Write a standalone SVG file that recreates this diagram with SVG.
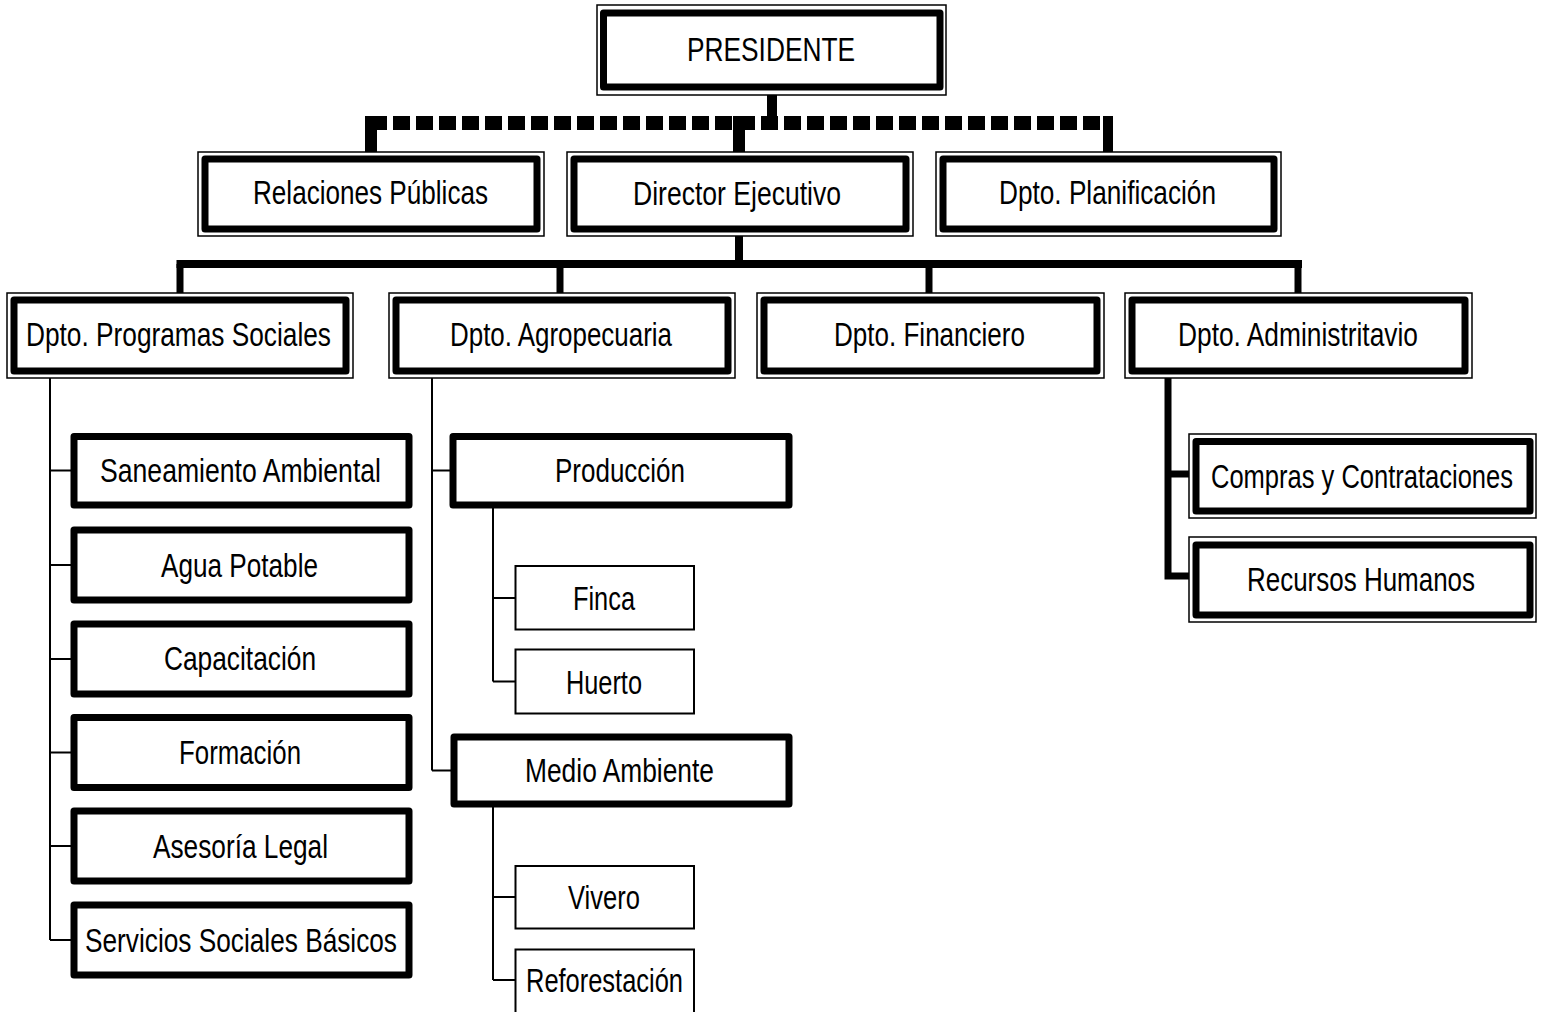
<svg xmlns="http://www.w3.org/2000/svg" width="1544" height="1012" viewBox="0 0 1544 1012">
<style>
.outer{fill:#fff;stroke:#000;stroke-width:1.5}
.thick{fill:#fff;stroke:#000;stroke-width:7;stroke-linejoin:round}
.thin{fill:#fff;stroke:#000;stroke-width:2}
.t{font-family:"Liberation Sans",Arial,sans-serif;font-size:33px;fill:#000;text-anchor:middle}
.c{fill:none;stroke:#000}
</style>
<rect width="1544" height="1012" fill="#fff"/>
<g id="connectors">
<line class="c" x1="772" y1="95" x2="772" y2="123" stroke-width="10"/>
<line class="c" x1="370" y1="123" x2="1108" y2="123" stroke-width="14" stroke-dasharray="17 6"/>
<line class="c" x1="371" y1="116" x2="371" y2="152" stroke-width="12"/>
<line class="c" x1="739" y1="116" x2="739" y2="152" stroke-width="12"/>
<line class="c" x1="1108" y1="116" x2="1108" y2="152" stroke-width="10"/>
<line class="c" x1="739" y1="236" x2="739" y2="264" stroke-width="8"/>
<line class="c" x1="176.5" y1="264" x2="1302" y2="264" stroke-width="8"/>
<line class="c" x1="180" y1="264" x2="180" y2="293" stroke-width="7"/>
<line class="c" x1="560" y1="264" x2="560" y2="293" stroke-width="7"/>
<line class="c" x1="929" y1="264" x2="929" y2="293" stroke-width="7"/>
<line class="c" x1="1298" y1="264" x2="1298" y2="293" stroke-width="7"/>
<path class="c" stroke-width="2" d="M50 378V940M50 470.5H72M50 565H72M50 659H72M50 752.5H72M50 846H72M50 940H72"/>
<path class="c" stroke-width="2" d="M432 378V770.5M432 470.5H452M432 770.5H452"/>
<path class="c" stroke-width="2" d="M493 505V681.5M493 598H516M493 681.5H516"/>
<path class="c" stroke-width="2" d="M493 804V980M493 897H516M493 980H516"/>
<path class="c" stroke-width="7" d="M1168 378V576M1168 474H1193M1164.5 576H1193"/>
</g>
<g id="presidente"><rect class="outer" x="597" y="5" width="349" height="90"/><rect class="thick" x="603.5" y="13" width="336.5" height="74"/><text class="t" x="771" y="61" textLength="168" lengthAdjust="spacingAndGlyphs">PRESIDENTE</text></g>
<g id="relaciones"><rect class="outer" x="198" y="152" width="346" height="84"/><rect class="thick" x="205" y="159" width="332" height="70"/><text class="t" x="370.5" y="204" textLength="235" lengthAdjust="spacingAndGlyphs">Relaciones Públicas</text></g>
<g id="director"><rect class="outer" x="567" y="152" width="346" height="84"/><rect class="thick" x="574" y="159" width="332" height="70"/><text class="t" x="737" y="205" textLength="208" lengthAdjust="spacingAndGlyphs">Director Ejecutivo</text></g>
<g id="planificacion"><rect class="outer" x="936" y="152" width="345" height="84"/><rect class="thick" x="943" y="159" width="331" height="70"/><text class="t" x="1107.5" y="204" textLength="217" lengthAdjust="spacingAndGlyphs">Dpto. Planificación</text></g>
<g id="programas"><rect class="outer" x="7" y="293" width="346" height="85"/><rect class="thick" x="14" y="300" width="332" height="71"/><text class="t" x="178.5" y="346" textLength="305" lengthAdjust="spacingAndGlyphs">Dpto. Programas Sociales</text></g>
<g id="agropecuaria"><rect class="outer" x="389" y="293" width="346" height="85"/><rect class="thick" x="396" y="300" width="332" height="71"/><text class="t" x="561" y="346" textLength="222" lengthAdjust="spacingAndGlyphs">Dpto. Agropecuaria</text></g>
<g id="financiero"><rect class="outer" x="757" y="293" width="347" height="85"/><rect class="thick" x="764" y="300" width="333" height="71"/><text class="t" x="929.5" y="346" textLength="191" lengthAdjust="spacingAndGlyphs">Dpto. Financiero</text></g>
<g id="administrativo"><rect class="outer" x="1125" y="293" width="347" height="85"/><rect class="thick" x="1132" y="300" width="333" height="71"/><text class="t" x="1298" y="346" textLength="240" lengthAdjust="spacingAndGlyphs">Dpto. Administritavio</text></g>
<g id="saneamiento"><rect class="thick" x="74" y="436.5" width="335" height="68.5"/><text class="t" x="240.5" y="482" textLength="281" lengthAdjust="spacingAndGlyphs">Saneamiento Ambiental</text></g>
<g id="agua"><rect class="thick" x="74" y="530" width="335" height="70"/><text class="t" x="239.5" y="577" textLength="157" lengthAdjust="spacingAndGlyphs">Agua Potable</text></g>
<g id="capacitacion"><rect class="thick" x="74" y="624" width="335" height="70"/><text class="t" x="240" y="670" textLength="152" lengthAdjust="spacingAndGlyphs">Capacitación</text></g>
<g id="formacion"><rect class="thick" x="74" y="717.5" width="335" height="70"/><text class="t" x="240" y="764" textLength="122" lengthAdjust="spacingAndGlyphs">Formación</text></g>
<g id="asesoria"><rect class="thick" x="74" y="811" width="335" height="70"/><text class="t" x="240.5" y="858" textLength="175" lengthAdjust="spacingAndGlyphs">Asesoría Legal</text></g>
<g id="servicios"><rect class="thick" x="74" y="905" width="335" height="70"/><text class="t" x="241" y="952" textLength="312" lengthAdjust="spacingAndGlyphs">Servicios Sociales Básicos</text></g>
<g id="produccion"><rect class="thick" x="453" y="436.5" width="336" height="68.5"/><text class="t" x="620" y="482" textLength="130" lengthAdjust="spacingAndGlyphs">Producción</text></g>
<g id="finca"><rect class="thin" x="515.5" y="566" width="178.5" height="63.5"/><text class="t" x="604" y="610" textLength="62" lengthAdjust="spacingAndGlyphs">Finca</text></g>
<g id="huerto"><rect class="thin" x="515.5" y="649.5" width="178.5" height="64"/><text class="t" x="604" y="694" textLength="76" lengthAdjust="spacingAndGlyphs">Huerto</text></g>
<g id="medio"><rect class="thick" x="454" y="737" width="335" height="67"/><text class="t" x="619.5" y="782" textLength="189" lengthAdjust="spacingAndGlyphs">Medio Ambiente</text></g>
<g id="vivero"><rect class="thin" x="515.5" y="866" width="178.5" height="62.5"/><text class="t" x="604" y="909" textLength="72" lengthAdjust="spacingAndGlyphs">Vivero</text></g>
<g id="reforestacion"><rect class="thin" x="515.5" y="949.5" width="178.5" height="66"/><text class="t" x="604.5" y="992" textLength="157" lengthAdjust="spacingAndGlyphs">Reforestación</text></g>
<g id="compras"><rect class="outer" x="1189" y="434" width="347" height="84"/><rect class="thick" x="1196" y="441.5" width="334" height="69.5"/><text class="t" x="1362" y="488" textLength="302" lengthAdjust="spacingAndGlyphs">Compras y Contrataciones</text></g>
<g id="recursos"><rect class="outer" x="1189" y="537" width="347" height="85"/><rect class="thick" x="1196" y="545" width="334" height="70"/><text class="t" x="1361" y="591" textLength="228" lengthAdjust="spacingAndGlyphs">Recursos Humanos</text></g>
</svg>
